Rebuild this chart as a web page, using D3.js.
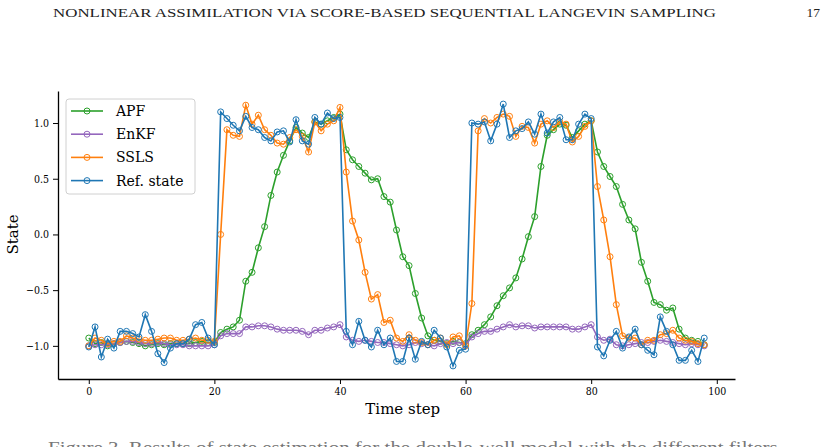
<!DOCTYPE html>
<html>
<head>
<meta charset="utf-8">
<script src="https://cdn.jsdelivr.net/npm/d3@7"></script>
<style>
  body { margin: 0; background: #fff; }
  text { font-family: "DejaVu Serif", serif; }
</style>
</head>
<body>
<div id="chart"></div>
<script>
// data (time steps 0..98)
var steps = d3.range(0, 99);

var apf = [-0.93, -0.98, -0.97, -1.0, -0.98, -0.97, -0.96, -0.97, -0.98, -1.0, -0.99, -0.98, -0.99, -0.98, -0.98, -0.98, -0.98, -0.97, -0.96, -0.97, -0.97,
  -0.88, -0.85, -0.83, -0.77, -0.42, -0.34, -0.12, 0.07, 0.35, 0.56, 0.71, 0.84, 0.96, 0.91, 0.87, 1.01, 0.99, 1.02, 1.05, 1.08,
  0.76, 0.67, 0.61, 0.55, 0.49, 0.50, 0.34, 0.29, 0.04, -0.20, -0.28, -0.53, -0.75, -0.91, -0.95, -0.96, -0.98, -0.96, -0.97, -0.98,
  -0.90, -0.86, -0.81, -0.74, -0.64, -0.55, -0.48, -0.39, -0.22, -0.02, 0.16, 0.61, 0.89, 0.94, 0.99, 0.98, 0.87, 0.93, 0.99, 1.02,
  0.74, 0.61, 0.52, 0.43, 0.27, 0.13, 0.05, -0.25, -0.42, -0.61, -0.63, -0.68, -0.66, -0.85, -0.93, -0.95, -0.96, -0.99];

var enkf = [-1.0, -0.99, -0.99, -0.99, -0.98, -0.97, -0.96, -0.96, -0.97, -0.98, -0.98, -0.97, -0.98, -0.99, -0.99, -0.99, -1.0, -1.0, -1.0, -1.0, -0.99,
  -0.91, -0.89, -0.89, -0.89, -0.83, -0.83, -0.82, -0.82, -0.83, -0.85, -0.86, -0.86, -0.86, -0.87, -0.90, -0.86, -0.86, -0.84, -0.83, -0.81,
  -0.92, -0.95, -0.96, -0.95, -0.96, -0.97, -0.97, -0.98, -0.99, -1.0, -0.99, -0.97, -0.98, -0.99, -1.0, -0.98, -0.97, -0.98, -0.97, -0.99,
  -0.92, -0.89, -0.87, -0.87, -0.85, -0.83, -0.81, -0.83, -0.82, -0.82, -0.84, -0.83, -0.83, -0.83, -0.83, -0.83, -0.85, -0.85, -0.83, -0.81,
  -0.92, -0.95, -0.94, -0.99, -1.0, -0.99, -0.98, -0.97, -0.97, -0.96, -0.95, -0.96, -0.97, -0.98, -0.99, -0.98, -0.99, -1.0];

var ssls = [-1.0, -0.93, -0.95, -0.98, -0.96, -0.96, -0.91, -0.93, -0.94, -0.95, -0.95, -0.94, -0.93, -0.93, -0.95, -0.95, -0.94, -0.93, -0.95, -0.95, -0.96,
  0.0, 0.94, 0.89, 0.88, 1.16, 0.99, 1.07, 0.94, 0.89, 0.82, 0.81, 0.87, 0.94, 0.88, 0.74, 1.01, 0.93, 0.99, 1.02, 1.14,
  0.56, 0.12, -0.05, -0.34, -0.58, -0.54, -0.79, -0.77, -0.93, -0.96, -0.90, -0.95, -0.97, -0.99, -0.95, -0.93, -0.99, -0.92, -0.91, -1.0,
  -0.62, 0.93, 1.04, 1.0, 1.05, 1.08, 1.06, 0.88, 0.97, 0.96, 0.82, 0.99, 1.02, 0.96, 1.01, 0.99, 0.83, 0.88, 0.97, 1.02,
  0.43, 0.13, -0.20, -0.63, -0.91, -0.93, -0.93, -0.99, -0.95, -0.95, -0.90, -0.89, -0.86, -0.93, -0.95, -0.96, -0.98, -0.99];

var refState = [-1.01, -0.83, -1.10, -0.94, -1.02, -0.87, -0.87, -0.89, -0.92, -0.72, -0.87, -1.07, -1.15, -1.02, -0.98, -0.98, -0.94, -0.81, -0.79, -0.93, -0.99,
  1.10, 1.04, 0.98, 0.93, 1.06, 0.96, 0.94, 0.87, 0.84, 0.92, 0.93, 0.83, 1.03, 0.84, 0.81, 1.05, 0.99, 1.09, 1.04, 1.05,
  -0.87, -0.99, -0.78, -0.95, -1.01, -0.86, -0.99, -0.93, -1.14, -1.14, -0.93, -1.12, -0.96, -0.99, -0.86, -0.93, -1.01, -1.18, -1.04, -1.03,
  1.00, 0.99, 1.01, 0.84, 0.99, 1.17, 0.87, 0.93, 0.95, 1.01, 0.90, 1.08, 0.91, 1.01, 1.05, 0.85, 0.85, 0.99, 1.08, 1.04,
  -1.01, -1.09, -0.95, -0.87, -1.02, -0.92, -0.85, -0.99, -1.04, -1.08, -0.74, -0.87, -0.99, -1.13, -1.13, -1.04, -1.14, -0.93];

var seriesNames = ["APF", "EnKF", "SSLS", "Ref. state"];
var seriesColors = ["#2ca02c", "#9467bd", "#ff7f0e", "#1f77b4"];
var seriesValues = [apf, enkf, ssls, refState];

var xTicks = [0, 20, 40, 60, 80, 100];
var yTicks = [-1.0, -0.5, 0.0, 0.5, 1.0];

var pageHeader = "NONLINEAR ASSIMILATION VIA SCORE-BASED SEQUENTIAL LANGEVIN SAMPLING";
var pageNumber = "17";
var captionText = "Figure 3. Results of state estimation for the double-well model with the different filters.";

var W = 829, H = 447;
var margin = {top: 91, right: 94, bottom: 68, left: 58},
    width = W - margin.left - margin.right,
    height = H - margin.top - margin.bottom;

var root = d3.select("#chart").append("svg")
    .attr("width", W)
    .attr("height", H);

// running header of the page
root.append("text")
  .attr("x", 53)
  .attr("y", 17)
  .attr("textLength", 663)
  .attr("lengthAdjust", "spacingAndGlyphs")
  .style("font-family", "'Liberation Serif', serif")
  .style("font-size", "13.5px")
  .style("fill", "#222")
  .text(pageHeader);

root.append("text")
  .attr("x", 820)
  .attr("y", 17)
  .attr("text-anchor", "end")
  .style("font-family", "'Liberation Serif', serif")
  .style("font-size", "13.5px")
  .style("fill", "#222")
  .text(pageNumber);

// caption cut off at bottom of the page
root.append("text")
  .attr("x", 48)
  .attr("y", 453)
  .attr("textLength", 735)
  .attr("lengthAdjust", "spacingAndGlyphs")
  .style("font-family", "'Liberation Serif', serif")
  .style("font-size", "17px")
  .style("fill", "#777")
  .text(captionText);

var svg = root.append("g")
    .attr("transform", "translate(" + margin.left + "," + margin.top + ")");

var x = d3.scaleLinear()
  .domain([-4.9, 102.9])
  .range([0, width]);

var y = d3.scaleLinear()
  .domain([-1.2975, 1.2875])
  .range([height, 0]);

var fmt = function(d) { return d3.format(".1f")(d).replace("-", "\u2212"); };

// axes (left + bottom spines only)
var xAxis = svg.append("g")
  .attr("transform", "translate(0," + height + ")")
  .call(d3.axisBottom(x).tickValues(xTicks).tickSize(5).tickPadding(4).tickSizeOuter(0));

var yAxis = svg.append("g")
  .call(d3.axisLeft(y).tickValues(yTicks).tickFormat(fmt).tickSize(5).tickPadding(4).tickSizeOuter(0));

[xAxis, yAxis].forEach(function(a) {
  a.select(".domain").attr("stroke", "#000").attr("stroke-width", 1.3);
  a.selectAll(".tick line").attr("stroke", "#000").attr("stroke-width", 1);
  a.selectAll(".tick text")
    .style("font-family", "'DejaVu Serif Condensed', 'DejaVu Serif', serif")
    .style("font-stretch", "condensed")
    .style("font-size", "10.5px")
    .style("fill", "#000");
});

// axis labels
svg.append("text")
  .attr("x", x(50))
  .attr("y", height + 35)
  .attr("text-anchor", "middle")
  .style("font-size", "15px")
  .style("fill", "#000")
  .text("Time step");

svg.append("text")
  .attr("transform", "rotate(-90)")
  .attr("x", -(y(0)))
  .attr("y", -40)
  .attr("text-anchor", "middle")
  .style("font-size", "15px")
  .style("fill", "#000")
  .text("State");

// series lines and hollow circle markers
var line = d3.line()
  .x(function(d, i) { return x(steps[i]); })
  .y(function(d) { return y(d); });

seriesValues.forEach(function(vals, k) {
  var g = svg.append("g");
  g.append("path")
    .datum(vals)
    .attr("fill", "none")
    .attr("stroke", seriesColors[k])
    .attr("stroke-width", 1.6)
    .attr("d", line);
  g.selectAll("circle")
    .data(vals)
    .enter()
    .append("circle")
      .attr("cx", function(d, i) { return x(steps[i]); })
      .attr("cy", function(d) { return y(d); })
      .attr("r", 3)
      .attr("fill", "none")
      .attr("stroke", seriesColors[k])
      .attr("stroke-width", 1);
});

// legend
var legend = svg.append("g")
  .attr("transform", "translate(8,8)");

legend.append("rect")
  .attr("width", 129)
  .attr("height", 95)
  .attr("rx", 3)
  .attr("fill", "#fff")
  .attr("fill-opacity", 0.85)
  .attr("stroke", "#d0d0d0")
  .attr("stroke-width", 1);

seriesNames.forEach(function(name, k) {
  var row = legend.append("g")
    .attr("transform", "translate(0," + (12 + k * 23.2) + ")");
  row.append("line")
    .attr("x1", 5).attr("x2", 37)
    .attr("stroke", seriesColors[k])
    .attr("stroke-width", 1.6);
  row.append("circle")
    .attr("cx", 21).attr("r", 3)
    .attr("fill", "none")
    .attr("stroke", seriesColors[k])
    .attr("stroke-width", 1);
  row.append("text")
    .attr("x", 50)
    .attr("y", 5)
    .style("font-size", "14px")
    .style("fill", "#000")
    .text(name);
});
</script>
</body>
</html>
